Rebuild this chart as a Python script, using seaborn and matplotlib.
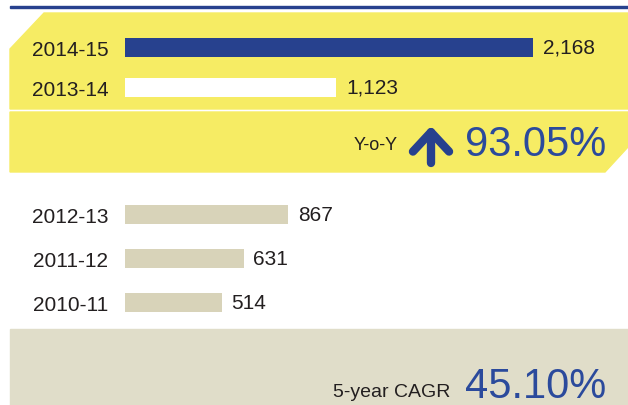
import matplotlib
matplotlib.use('Agg')
import matplotlib.pyplot as plt
import matplotlib.transforms as mtransforms
from matplotlib.patches import Polygon, Rectangle
import seaborn as sns
import pandas as pd

# Data
top_years = ['2014-15', '2013-14']
top_values = [2168, 1123]
bottom_years = ['2012-13', '2011-12', '2010-11']
bottom_values = [867, 631, 514]
yoy_label = 'Y-o-Y'
yoy_value = '93.05%'
cagr_label = '5-year CAGR'
cagr_value = '45.10%'

# Colours
YELLOW = '#F6EC64'
NAVY = '#27418E'
BLUE_TEXT = '#2B4A9C'
BEIGE_BAR = '#D8D3B9'
BEIGE_BAND = '#E0DDC9'
DARK = '#231F20'

W, H = 628, 406
sns.set_theme(style='white')
plt.rcParams['font.family'] = ['Liberation Sans', 'DejaVu Sans']

fig = plt.figure(figsize=(W / 100, H / 100), dpi=100)
fig.patch.set_facecolor('white')

# pixel coords (origin top-left) -> figure
px = mtransforms.Affine2D().scale(1 / W, -1 / H).translate(0, 1) + fig.transFigure


def fx(x):
    return x / W


def fy(y):
    return 1 - y / H


# background shapes
fig.patches.append(Rectangle((10, 6.5), W - 10, 2.5, transform=px, color=NAVY, zorder=-5))
fig.patches.append(Polygon([(10, 50), (44, 14), (W, 14), (W, 110), (10, 110)],
                           closed=True, transform=px, color=YELLOW, zorder=-5))
fig.patches.append(Polygon([(10, 113), (W, 113), (W, 148), (605, 173), (10, 173)],
                           closed=True, transform=px, color=YELLOW, zorder=-5))
fig.patches.append(Rectangle((10, 330), W - 10, H - 330, transform=px, color=BEIGE_BAND, zorder=-5))

x0 = 125
scale = 408 / 2168  # pixels per unit
xmax = (W - x0) / scale


def bar_axes(years, values, colors, top_px, step_px):
    n = len(years)
    y_top = top_px - step_px / 2
    ax = fig.add_axes([fx(x0), fy(y_top + n * step_px), fx(W - x0), n * step_px / H])
    df = pd.DataFrame({'year': years, 'value': values})
    sns.barplot(data=df, x='value', y='year', hue='year', palette=dict(zip(years, colors)),
                orient='h', width=19 / step_px, legend=False, ax=ax, saturation=1,
                linewidth=0)
    ax.set_xlim(0, xmax)
    ax.set_ylim(n - 0.5, -0.5)
    ax.set_facecolor('none')
    for s in ax.spines.values():
        s.set_visible(False)
    ax.set_xlabel('')
    ax.set_ylabel('')
    ax.set_xticks([])
    ax.tick_params(axis='y', length=0, pad=12, labelsize=15, labelcolor=DARK)
    for c in ax.containers:
        ax.bar_label(c, labels=[f'{v:,.0f}' for v in c.datavalues], padding=7,
                     fontsize=15, color=DARK)
    return ax


bar_axes(top_years, top_values, [NAVY, 'white'], 48.5, 40)
bar_axes(bottom_years, bottom_values, [BEIGE_BAR] * 3, 215.5, 44)

# Y-o-Y row
fig.text(fx(398), fy(150), yoy_label, ha='right', va='baseline', fontsize=13, color=DARK)
fig.text(fx(465), fy(156), yoy_value, ha='left', va='baseline', fontsize=30, color=BLUE_TEXT)
fig.add_artist(plt.Annotation('', xy=(fx(431), fy(127)), xycoords='figure fraction',
                              xytext=(fx(431), fy(164)), textcoords='figure fraction',
                              arrowprops=dict(arrowstyle='->, head_length=0.7, head_width=0.65',
                                              lw=6, color=NAVY, shrinkA=0, shrinkB=0,
                                              mutation_scale=20, capstyle='round',
                                              joinstyle='round')))

# CAGR row
fig.text(fx(450), fy(397), cagr_label, ha='right', va='baseline', fontsize=14, color=DARK,
         family=['Liberation Sans Narrow', 'Liberation Sans'])
fig.text(fx(465), fy(398), cagr_value, ha='left', va='baseline', fontsize=30, color=BLUE_TEXT)

fig.savefig('out.png', dpi=100)
